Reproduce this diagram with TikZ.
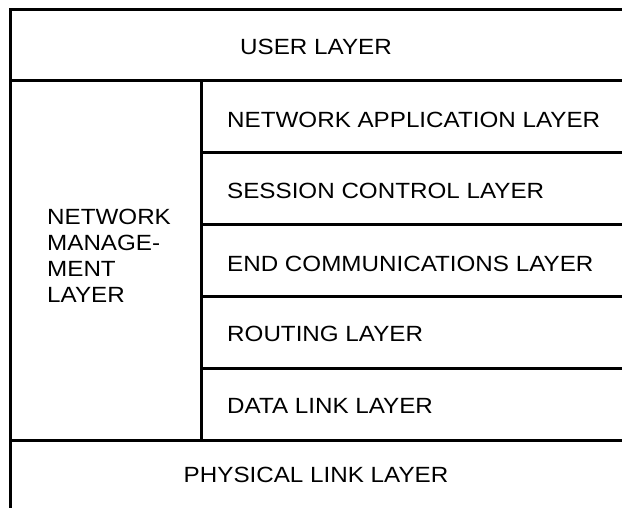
\documentclass[tikz,border=0pt]{standalone}
\usepackage{fontspec}
\setmainfont[FakeStretch=1.1]{Liberation Sans}
\begin{document}
\begin{tikzpicture}[x=1bp,y=-1bp,
  rule/.style={line width=3bp,line cap=rect},
  lbl/.style={inner sep=0pt,font=\fontsize{22bp}{26bp}\selectfont},
  lft/.style={lbl,anchor=west}]
\useasboundingbox (0,0) rectangle (622,508);
% frame lines
\draw[rule] (622,10) -- (10,10) -- (10,510);
\draw[rule] (10,81) -- (624,81);
\draw[rule] (10,440) -- (624,440);
\draw[rule] (201,81) -- (201,440);
\foreach \y in {153,225,296,368} \draw[rule] (201,\y) -- (624,\y);
% labels
\node[lbl] (user) at (316,47) {USER LAYER};
\node[lft] (app) at (227,120) {NETWORK APPLICATION LAYER};
\node[lft] (sess) at (227,191) {SESSION CONTROL LAYER};
\node[lft] (endc) at (227,264) {END COMMUNICATIONS LAYER};
\node[lft] (rout) at (227,334) {ROUTING LAYER};
\node[lft] (dlink) at (227,406) {DATA LINK LAYER};
\node[lbl] (phys) at (316,475) {PHYSICAL LINK LAYER};
\node[lft,align=left] (nm) at (47,256) {NETWORK\\MANAGE-\\MENT\\LAYER};
\end{tikzpicture}
\end{document}
